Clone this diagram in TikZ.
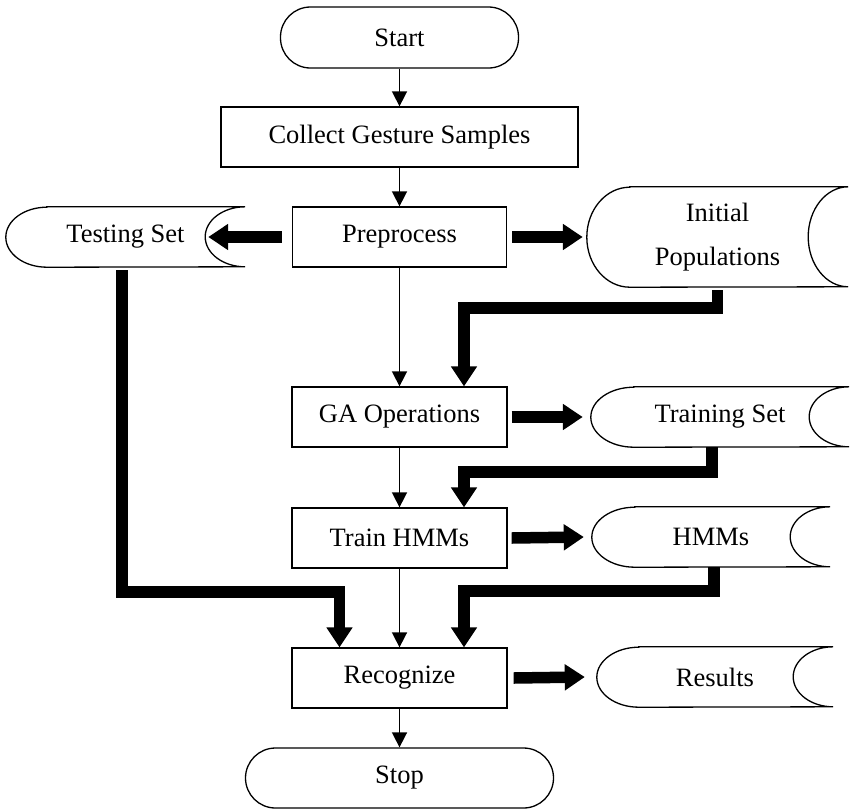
\documentclass[tikz,border=0pt]{standalone}
\usepackage{fontspec}
\setmainfont{Liberation Serif}
\usetikzlibrary{positioning,arrows.meta}

\tikzset{
  procbox/.style={draw,line width=1.3pt,minimum height=60pt,inner sep=0pt,
    font=\fontsize{26.5}{31}\selectfont},
  termbox/.style={procbox,rounded corners=30pt},
  datatext/.style={minimum height=60pt,inner sep=0pt,align=center,
    font=\fontsize{26.5}{44}\selectfont},
  thinflow/.style={line width=1.6pt,-{Triangle[length=15pt,width=15pt]}},
  thickflow/.style={line width=11.5pt,line join=miter,
    -{Triangle[length=20pt,width=25pt]}},
}
% outline of a stored-data symbol round a text node
\newcommand{\dataoutline}[3]{%
  \draw[line width=1.3pt] ([xshift=#2pt]#1.north west) -- (#1.north east)
    arc[start angle=90,end angle=270,x radius=40pt,y radius=#3pt]
    -- ([xshift=#2pt]#1.south west)
    arc[start angle=270,end angle=90,x radius=#2pt,y radius=#3pt] -- cycle;}

\begin{document}
\begin{tikzpicture}[x=1pt,y=1pt]
  \useasboundingbox (0,0) rectangle (851,-809);

  \node[termbox,minimum width=238pt,minimum height=61pt] (start) at (399.5,-37.5) {Start};
  \node[procbox,minimum width=357pt] (collect) at (399.5,-137) {Collect Gesture Samples};
  \node[procbox,minimum width=214pt] (prep) at (399.5,-237) {Preprocess};
  \node[procbox,minimum width=215pt] (ga) at (399.5,-417) {GA Operations};
  \node[procbox,minimum width=215pt] (train) at (399.5,-538) {Train HMMs};
  \node[procbox,minimum width=215pt] (recog) at (399.5,-678) {Recognize};
  \node[termbox,minimum width=308pt] (stop) at (399.5,-778) {Stop};

  \node[datatext,minimum width=239pt] (testset) at (125.5,-237) {Testing Set};
  \node[datatext,minimum width=261pt,minimum height=100pt] (initpop) at (717.5,-237)
    {Initial\\Populations};
  \node[datatext,minimum width=258pt] (trainset) at (720,-417) {Training Set};
  \node[datatext,minimum width=238pt] (hmms) at (711,-537) {HMMs};
  \node[datatext,minimum width=236pt] (results) at (715,-677) {Results};

  \dataoutline{testset}{41}{30}
  \dataoutline{initpop}{43}{50}
  \dataoutline{trainset}{43}{30}
  \dataoutline{hmms}{43}{30}
  \dataoutline{results}{42}{30}

  \draw[thinflow] (start) -- (collect);
  \draw[thinflow] (collect) -- (prep);
  \draw[thinflow] (prep) -- (ga);
  \draw[thinflow] (ga) -- (train);
  \draw[thinflow] (train) -- (recog);
  \draw[thinflow] (recog) -- (stop);

  \draw[thickflow] ([xshift=-10pt]prep.west) -- ([xshift=-37pt]testset.east);
  \draw[thickflow] ([xshift=5pt]prep.east) -- ([xshift=-4pt]initpop.west);
  \draw[thickflow] ([xshift=4pt]ga.east) -- ([xshift=-8pt]trainset.west);
  \draw[thickflow] ([xshift=4pt]train.east) -- ([xshift=-8pt]hmms.west);
  \draw[thickflow] ([xshift=6pt]recog.east) -- ([xshift=-12pt]results.west);

  \draw[thickflow] ([yshift=-3pt]initpop.south) -- ++(0,-18) -| ([xshift=64.5pt]ga.north);
  \draw[thickflow] ([xshift=-8pt]trainset.south) -- ++(0,-25) -| ([xshift=64.5pt]train.north);
  \draw[thickflow] ([xshift=3pt]hmms.south) -- ++(0,-24) -| ([xshift=64.5pt]recog.north);
  \draw[thickflow] ([xshift=-3.5pt,yshift=-3pt]testset.south) -- ++(0,-322)
    -| ([xshift=-60pt]recog.north);
\end{tikzpicture}
\end{document}
